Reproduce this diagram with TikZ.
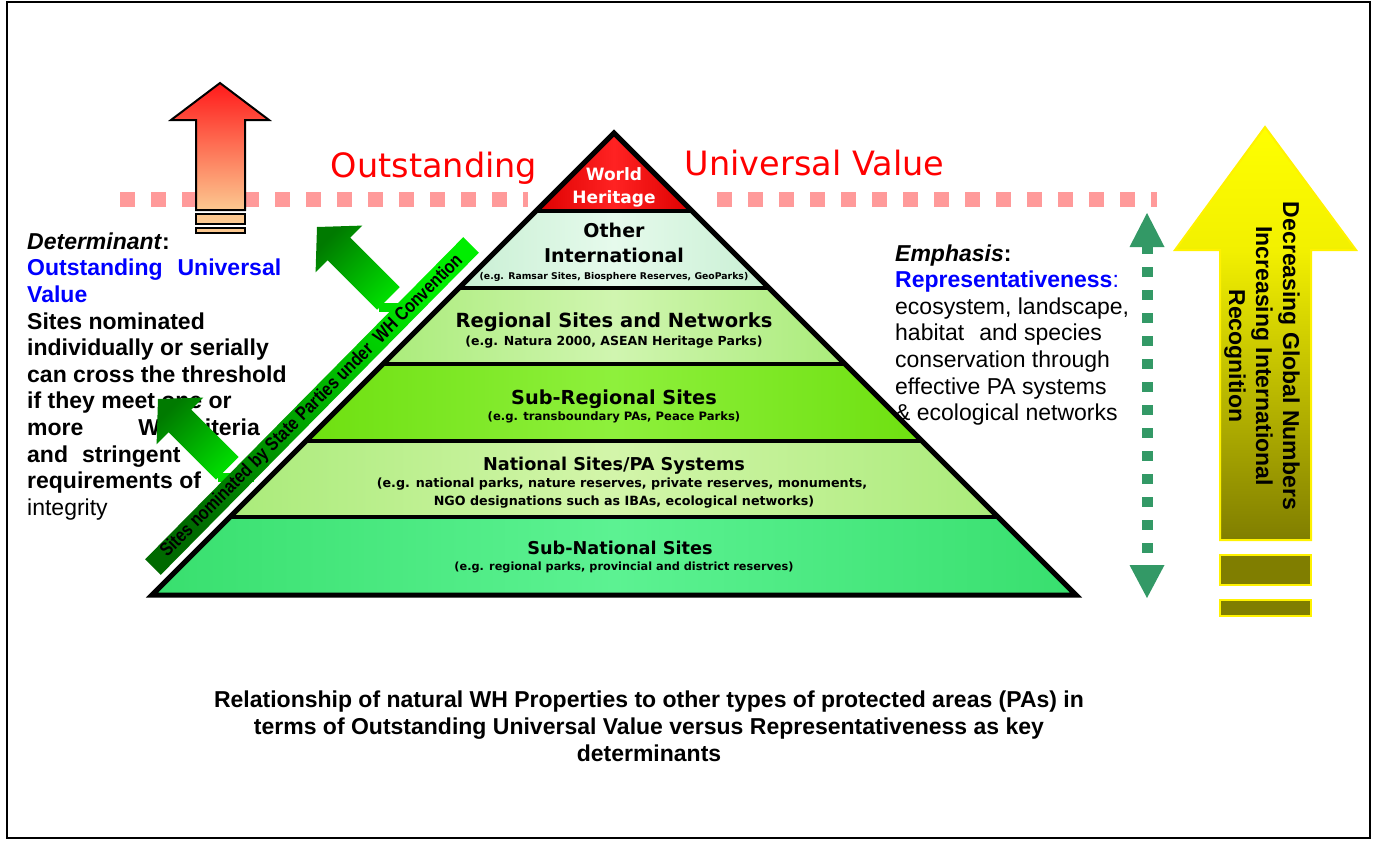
\documentclass[tikz,border=0pt]{standalone}
\usepackage{fontspec}
\setmainfont{Liberation Sans}
\newfontfamily\dvs{DejaVu Sans}
\usetikzlibrary{shadings}
\definecolor{pinkdash}{HTML}{FF9A9A}
\definecolor{redtop}{HTML}{FF1A1A}
\definecolor{peach}{HTML}{FCC890}
\definecolor{gdark}{HTML}{007A00}
\definecolor{gbright}{HTML}{00DD00}
\definecolor{bardark}{HTML}{006A00}
\definecolor{barbright}{HTML}{00EE00}
\definecolor{dteal}{HTML}{339966}
\definecolor{yolive}{HTML}{807E00}
\definecolor{ymid}{HTML}{F2F000}
\definecolor{ovred}{HTML}{FF0000}
\definecolor{txtblue}{HTML}{0000FF}
\definecolor{whA}{HTML}{DD0000}\definecolor{whB}{HTML}{FF2222}
\definecolor{oiA}{HTML}{C8EFD3}\definecolor{oiB}{HTML}{E6FAEC}
\definecolor{rgA}{HTML}{AAEC7A}\definecolor{rgB}{HTML}{D0F5B0}
\definecolor{srA}{HTML}{6EE010}\definecolor{srB}{HTML}{8EF03C}
\definecolor{naA}{HTML}{AAEB7A}\definecolor{naB}{HTML}{D3F5AA}
\definecolor{snA}{HTML}{38DF6E}\definecolor{snB}{HTML}{5CF292}
\pgfdeclareverticalshading{yarrowshade}{100bp}{color(0bp)=(yolive); color(25bp)=(yolive); color(60bp)=(ymid); color(75bp)=(yellow); color(100bp)=(yellow)}
\newcommand\grarrow[3]{%
\begin{scope}[shift={(#1,#2)}, x={(-0.7071pt,0.7071pt)}, y={(0.7071pt,0.7071pt)}]
 \path[top color=gdark, bottom color=gbright, shading angle=45] (0,0) -- (-31,33) -- (-31,16) -- (-#3,16) -- (-#3,-16) -- (-31,-16) -- (-31,-33) -- cycle;
 \fill[gbright] (-#3-3,-16) rectangle (-#3-22,16);
\end{scope}}
\begin{document}
\begin{tikzpicture}[x=1pt,y=-1pt,
  band/.style 2 args={left color=#1,right color=#1,middle color=#2},
  pyr/.style={anchor=base, inner sep=0pt, text=black},
  thr/.style={pinkdash, line width=15pt, dash pattern=on 15pt off 16pt},
  sep/.style={line width=4.5pt},
  blk/.style={inner sep=0pt, align=left, font=\fontsize{23}{26.6}\selectfont}
]
\useasboundingbox (0,0) rectangle (1376,841);
\draw[line width=2pt] (7,2) rectangle (1370,838);
% threshold line
\coordinate (tA) at (120,199.5); \coordinate (tB) at (528,199.5);
\coordinate (tC) at (717,199.5); \coordinate (tD) at (1157,199.5);
\draw[thr] (tA) -- (tB);
\draw[thr] (tC) -- (tD);
% red arrow
\path[draw=black, line width=2pt, top color=redtop, bottom color=peach]
  (220,83) -- (269,120) -- (245,120) -- (245,210) -- (196,210) -- (196,120) -- (171,120) -- cycle;
\draw[line width=2pt, fill=peach] (196,214) rectangle (245,224);
\draw[line width=2pt, fill=peach] (196,228) rectangle (245,233);
% Outstanding Universal Value
\node[anchor=base, inner sep=0pt, text=ovred, font=\dvs\fontsize{33.5}{34}\selectfont] (ov1) at (434,177) {Outstanding};
\node[anchor=base, inner sep=0pt, text=ovred, font=\dvs\fontsize{33.5}{34}\selectfont] (ov2) at (814.5,175) {Universal Value};
% pyramid bands
\coordinate (apex) at (614,133);
\path[band={whA}{whB}] (apex) -- (692,211) -- (536,211) -- cycle;
\path[band={oiA}{oiB}] (536,211) -- (692,211) -- (769,288) -- (459,288) -- cycle;
\path[band={rgA}{rgB}] (459,288) -- (769,288) -- (845,364) -- (383,364) -- cycle;
\path[band={srA}{srB}] (383,364) -- (845,364) -- (922,441) -- (306,441) -- cycle;
\path[band={naA}{naB}] (306,441) -- (922,441) -- (998,517) -- (230,517) -- cycle;
\path[band={snA}{snB}] (230,517) -- (998,517) -- (1076,595) -- (152,595) -- cycle;
\draw[sep] (536,211) -- (692,211);
\draw[sep] (459,288) -- (769,288);
\draw[sep] (383,364) -- (845,364);
\draw[sep] (306,441) -- (922,441);
\draw[sep] (230,517) -- (998,517);
\draw[line width=5pt, line join=miter] (apex) -- (1076,595) -- (152,595) -- cycle;
% pyramid labels
\node[pyr, text=white, font=\dvs\bfseries\fontsize{17}{17}\selectfont] (wh1) at (614,180) {World};
\node[pyr, text=white, font=\dvs\bfseries\fontsize{17}{17}\selectfont] (wh2) at (614,203) {Heritage};
\node[pyr, font=\dvs\bfseries\fontsize{19}{19}\selectfont] (oi1) at (614,237) {Other};
\node[pyr, font=\dvs\bfseries\fontsize{19}{19}\selectfont] (oi2) at (614,262) {International};
\node[pyr, font=\dvs\bfseries\fontsize{9.3}{10}\selectfont] (oi3) at (614,279.5) {(e.g. Ramsar Sites, Biosphere Reserves, GeoParks)};
\node[pyr, font=\dvs\bfseries\fontsize{19.5}{20}\selectfont] (rg1) at (614,327) {Regional Sites and Networks};
\node[pyr, font=\dvs\bfseries\fontsize{12.5}{13}\selectfont] (rg2) at (614,345.5) {(e.g. Natura 2000, ASEAN Heritage Parks)};
\node[pyr, font=\dvs\bfseries\fontsize{19.3}{20}\selectfont] (sr1) at (614,404) {Sub-Regional Sites};
\node[pyr, font=\dvs\bfseries\fontsize{11.6}{12}\selectfont] (sr2) at (614,420) {(e.g. transboundary PAs, Peace Parks)};
\node[pyr, font=\dvs\bfseries\fontsize{17.7}{18}\selectfont] (na1) at (614,470) {National Sites/PA Systems};
\node[pyr, font=\dvs\bfseries\fontsize{12.7}{13}\selectfont] (na2) at (622,487.5) {(e.g. national parks, nature reserves, private reserves, monuments,};
\node[pyr, font=\dvs\bfseries\fontsize{12.7}{13}\selectfont] (na3) at (624,505.5) {NGO designations such as IBAs, ecological networks)};
\node[pyr, font=\dvs\bfseries\fontsize{17.7}{18}\selectfont] (sn1) at (620,554) {Sub-National Sites};
\node[pyr, font=\dvs\bfseries\fontsize{11.3}{12}\selectfont] (sn2) at (624,570) {(e.g. regional parks, provincial and district reserves)};
% left text
\node[blk, anchor=north west] (det) at (27,232.4) {%
\textbf{\textit{Determinant}:}\\
\textcolor{txtblue}{\textbf{Outstanding\hspace{15pt}Universal}}\\
\textcolor{txtblue}{\textbf{Value}}\\
\textbf{Sites nominated}\\
\textbf{individually or serially}\\
\textbf{can cross the threshold}\\
\textbf{if they meet one or}\\
\textbf{more\hspace{55pt}WH criteria}\\
\textbf{and\hspace{14pt}stringent}\\
\textbf{requirements of}\\
integrity};
% green arrows
\grarrow{317}{227}{101}
\grarrow{158}{399}{98}
% diagonal bar
\path[top color=barbright, bottom color=bardark, shading angle=-45]
  (145.2,559.2) -- (463.2,237.2) -- (478.8,252.8) -- (160.8,574.8) -- cycle;
\node[rotate=45, inner sep=0pt, text=black] (bartxt) at (312,406)
  {\scalebox{0.83}[1]{\fontsize{19}{19}\selectfont\bfseries Sites nominated by State Parties under\ \ WH Convention}};
% right text
\node[blk, anchor=north west] (emph) at (895,244.2) {%
\textbf{\textit{Emphasis}:}\\
\textcolor{txtblue}{\textbf{Representativeness}:}\\
ecosystem, landscape,\\
habitat\hspace{15pt}and species\\
conservation through\\
effective PA systems\\
\& ecological networks};
% double-headed dotted arrow
\coordinate (dTop) at (1147,247); \coordinate (dBot) at (1147,565);
\draw[dteal, line width=11pt, dash pattern=on 10pt off 13pt, dash phase=3pt] (dTop) -- (dBot);
\fill[dteal] (1147,213) -- (1164.5,247) -- (1129.5,247) -- cycle;
\fill[dteal] (1147,598) -- (1164.5,565) -- (1129.5,565) -- cycle;
% yellow arrow
\path[draw=yellow, line width=2pt, shade, shading=yarrowshade]
  (1265,127) -- (1356,250) -- (1311,250) -- (1311,540) -- (1220,540) -- (1220,250) -- (1175,250) -- cycle;
\draw[yellow, line width=2pt, fill=yolive] (1220,555) rectangle (1311,585);
\draw[yellow, line width=2pt, fill=yolive] (1220,600) rectangle (1311,616);
\node[rotate=-90, inner sep=0pt, align=center, text=black, font=\bfseries\fontsize{23}{27}\selectfont] (yt) at (1262,356)
  {Decreasing Global Numbers\\Increasing International\\Recognition};
% caption
\node[anchor=north, inner sep=0pt, align=center, font=\bfseries\fontsize{23}{26.6}\selectfont] (cap) at (649,691)
  {Relationship of natural WH Properties to other types of protected areas (PAs) in\\terms of Outstanding Universal Value versus Representativeness as key\\determinants};
\end{tikzpicture}
\end{document}
